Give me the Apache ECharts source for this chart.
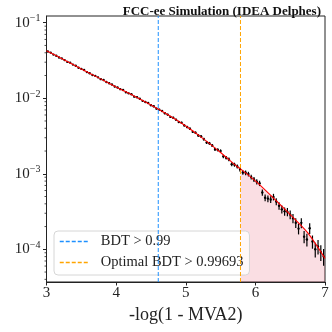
<!DOCTYPE html>
<html>
<head>
<meta charset="utf-8">
<script src="https://cdn.jsdelivr.net/npm/echarts@6/dist/echarts.min.js"></script>
<style>
html, body { margin: 0; padding: 0; background: #fff; }
#main { width: 332px; height: 332px; }
</style>
</head>
<body>
<div id="main"></div>
<script>
// histogram: 100 bins between 3 and 7, normalised counts
var xLo = 3, xHi = 7;
var counts = [
  0.0416, 0.0402, 0.0378, 0.0366, 0.0346, 0.0337, 0.0320, 0.0303, 0.0296, 0.0279,
  0.0269, 0.0253, 0.0245, 0.0236, 0.0222, 0.0214, 0.0203, 0.0198, 0.0189, 0.0179,
  0.0174, 0.0164, 0.0158, 0.0152, 0.0143, 0.0139, 0.0132, 0.01285, 0.0120, 0.0116,
  0.0113, 0.0105, 0.0103, 0.00984, 0.00923, 0.00891, 0.00865, 0.00807, 0.00782, 0.00728,
  0.00706, 0.00678, 0.00632, 0.00607, 0.00566, 0.00553, 0.00521, 0.00484, 0.00473, 0.00437,
  0.00416, 0.00395, 0.00359, 0.00349, 0.00321, 0.00313, 0.00287, 0.00259, 0.00253, 0.00237,
  0.00211, 0.00207, 0.00200, 0.00170, 0.00163, 0.00155, 0.00134, 0.00132, 0.00125, 0.00114,
  0.00104, 0.00103, 0.000991, 0.000904, 0.000841, 0.000785, 0.000748, 0.000566, 0.000481, 0.000469,
  0.000457, 0.000493, 0.000429, 0.000376, 0.000338, 0.000318, 0.000313, 0.000288, 0.000258, 0.000225,
  0.000188, 0.000224, 0.000147, 0.000135, 0.000190, 0.000127, 0.000100, 0.000109, 0.0000916, 0.0000807
];
// weight of one event (poisson error = sqrt(n) * w)
var evtWeight = 5e-6;

// fitted curve
var fitX = [3.0, 3.25, 3.5, 3.75, 4.0, 4.25, 4.5, 4.75, 5.0, 5.25, 5.5, 5.75, 5.786, 6.0, 6.25, 6.5, 6.75, 7.0];
var fitY = [0.0426, 0.0324, 0.0244, 0.0186, 0.0141, 0.0108, 0.00815, 0.00600, 0.00429, 0.00292,
            0.00191, 0.00122, 0.00116, 0.000804, 0.000486, 0.000288, 0.000166, 0.0000759];

// BDT cuts -> -log(1 - cut)
var cutNames = ['BDT > 0.99', 'Optimal BDT > 0.99693'];
var cutValues = [0.99, 0.99693];
var cutColors = ['#1e90ff', '#ffa500'];

var yMin = 3.69e-5, yMax = 0.1227;
var serif = 'Liberation Serif';

var myChart = echarts.init(document.getElementById('main'));

var nBins = counts.length;
var binW = (xHi - xLo) / nBins;
var points = counts.map(function(v, i) {
    return [xLo + binW * (i + 0.5), v, Math.sqrt(v * evtWeight)];
});

var fitData = fitX.map(function(x, i) { return [x, fitY[i]]; });
var cutX = cutValues.map(function(c) { return -Math.log(1 - c); });
var areaData = fitData.filter(function(p) { return p[0] >= cutX[1] - 1e-3; });

// minor ticks 2..9 x 10^n inside the y range
var minorTicks = [];
for (var e = -5; e <= -1; e++) {
    for (var m = 2; m <= 9; m++) {
        var t = m * Math.pow(10, e);
        if (t > yMin && t < yMax) minorTicks.push([xLo, t]);
    }
}

var cutSeries = cutNames.map(function(name, i) {
    return {
        name: name,
        type: 'line',
        symbol: 'none',
        z: 5,
        data: [[cutX[i], yMin], [cutX[i], yMax]],
        lineStyle: { color: cutColors[i], width: 1, type: [4, 2] },
        itemStyle: { color: cutColors[i] }
    };
});

option = {
    animation: false,
    title: {
        text: 'FCC-ee Simulation (IDEA Delphes)',
        right: 6,
        top: 0,
        textStyle: { fontFamily: serif, fontWeight: 'bold', fontSize: 13, color: '#111' }
    },
    legend: {
        orient: 'vertical',
        left: 54,
        top: 231,
        data: cutNames,
        itemWidth: 29,
        itemHeight: 14,
        itemGap: 6,
        padding: [3, 6, 5, 5],
        backgroundColor: 'rgba(255,255,255,0.8)',
        borderColor: '#d6d6d6',
        borderWidth: 1,
        borderRadius: 4,
        itemStyle: { opacity: 0 },
        lineStyle: { width: 1.5, color: 'inherit', type: 'inherit' },
        textStyle: { fontFamily: serif, fontSize: 14.5, color: '#222', padding: [0, 0, 0, 7] }
    },
    grid: {
        left: 46.5,
        right: 7,
        top: 16,
        bottom: 50,
        show: true,
        borderColor: '#222',
        borderWidth: 1
    },
    xAxis: {
        type: 'value',
        min: xLo,
        max: xHi,
        interval: 1,
        name: '-log(1 - MVA2)',
        nameLocation: 'middle',
        nameGap: 19,
        nameTextStyle: { fontFamily: serif, fontSize: 18, color: '#222' },
        axisLine: { lineStyle: { color: '#222', width: 1 } },
        axisTick: { inside: false, length: 3.5, lineStyle: { color: '#222' } },
        axisLabel: { margin: 4, fontFamily: serif, fontSize: 15, color: '#222' },
        splitLine: { show: false }
    },
    yAxis: {
        type: 'log',
        logBase: 10,
        min: yMin,
        max: yMax,
        axisLine: { show: true, lineStyle: { color: '#222', width: 1 } },
        axisTick: { show: true, inside: false, length: 3.5, lineStyle: { color: '#222' } },
        axisLabel: {
            margin: 6,
            showMinLabel: false,
            showMaxLabel: false,
            color: '#222',
            formatter: function(v) {
                var p = Math.round(Math.log10(v));
                return '{b|10}{s|\u2212' + Math.abs(p) + '}';
            },
            rich: {
                b: { fontFamily: serif, fontSize: 15, color: '#222' },
                s: { fontFamily: serif, fontSize: 10, color: '#222', padding: [0, 0, 8, 0] }
            }
        },
        splitLine: { show: false }
    },
    series: [
        {
            name: 'area',
            type: 'line',
            symbol: 'none',
            smooth: 0.3,
            z: 1,
            data: areaData,
            lineStyle: { width: 0 },
            areaStyle: { color: 'rgba(220,20,60,0.2)', origin: 'start' }
        },
        {
            name: 'data',
            type: 'custom',
            z: 2,
            data: points,
            encode: { x: 0, y: 1 },
            renderItem: function(params, api) {
                var x = api.value(0), y = api.value(1), er = api.value(2);
                var hi = api.coord([x, y + er]);
                var lo = api.coord([x, y - er]);
                var c = api.coord([x, y]);
                return {
                    type: 'group',
                    children: [
                        { type: 'line', shape: { x1: hi[0], y1: hi[1], x2: lo[0], y2: lo[1] },
                          style: { stroke: '#000', lineWidth: 1.2 } },
                        { type: 'circle', shape: { cx: c[0], cy: c[1], r: 1.2 },
                          style: { fill: '#000' } }
                    ]
                };
            }
        },
        {
            name: 'fit',
            type: 'line',
            symbol: 'none',
            smooth: 0.3,
            z: 3,
            data: fitData,
            lineStyle: { color: '#ff0000', width: 1.1 }
        },
        cutSeries[0],
        cutSeries[1],
        {
            name: 'minor',
            type: 'custom',
            silent: true,
            z: 6,
            data: minorTicks,
            encode: { x: 0, y: 1 },
            renderItem: function(params, api) {
                var p = api.coord([api.value(0), api.value(1)]);
                return { type: 'line', shape: { x1: p[0] - 2, y1: p[1], x2: p[0], y2: p[1] },
                         style: { stroke: '#222', lineWidth: 0.8 } };
            }
        }
    ]
};

myChart.setOption(option);
</script>
</body>
</html>
